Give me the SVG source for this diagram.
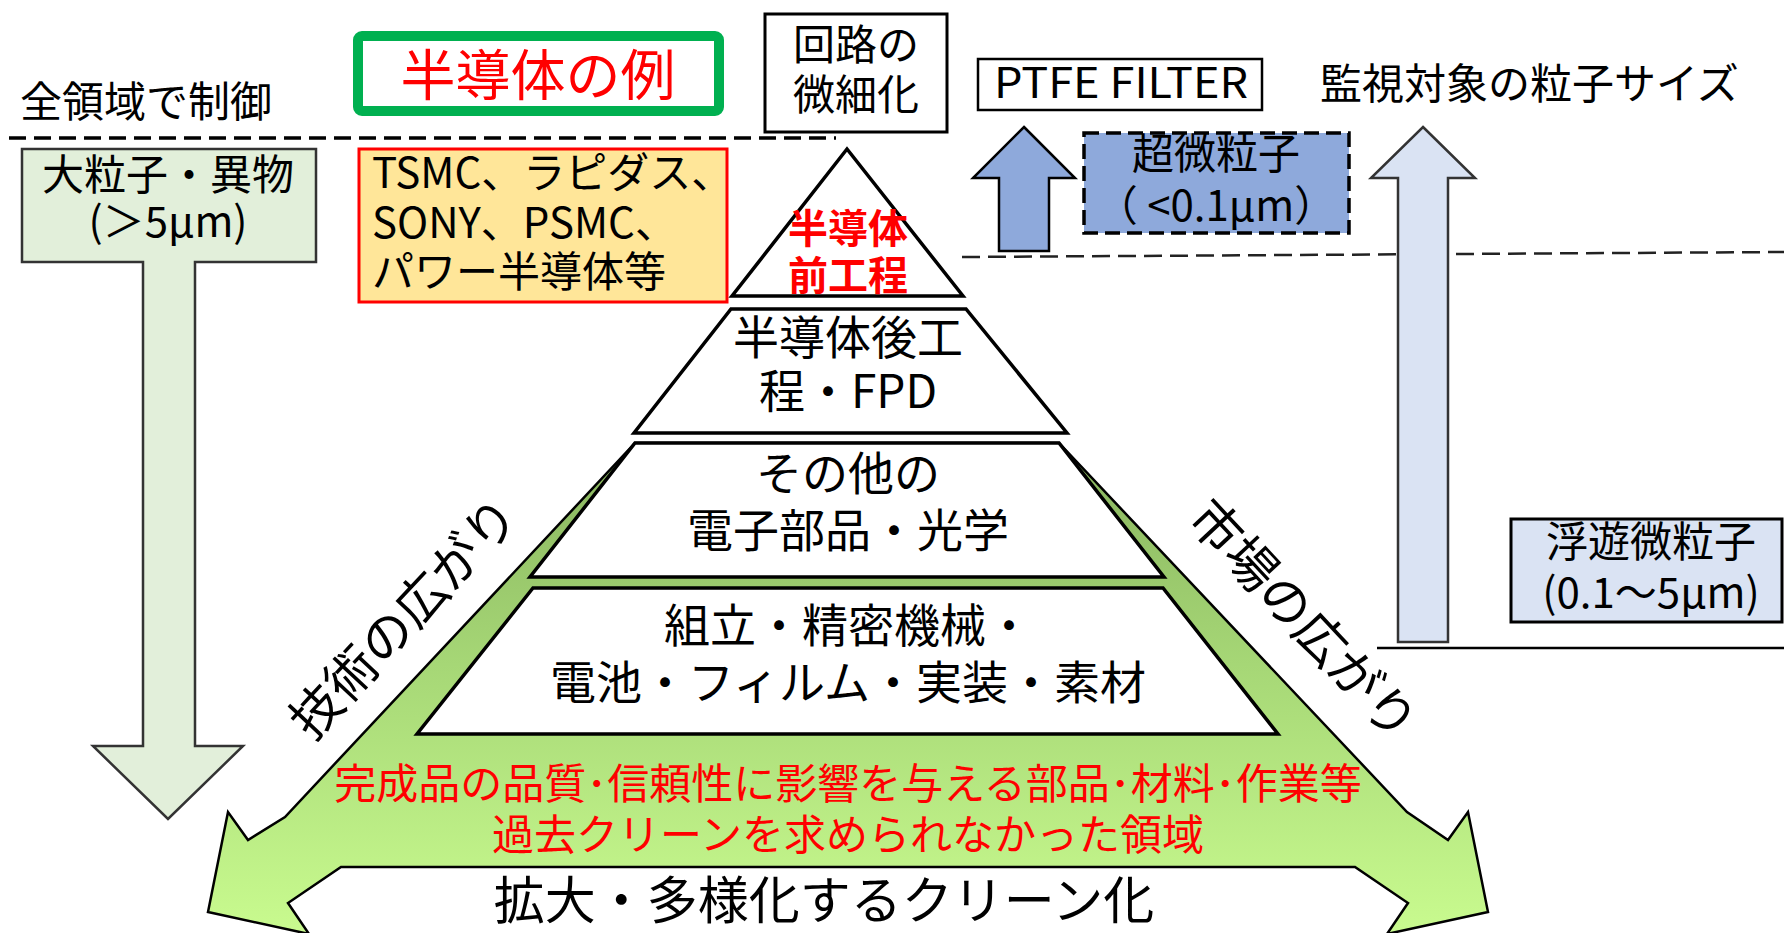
<svg xmlns="http://www.w3.org/2000/svg" width="1784" height="933" viewBox="0 0 1784 933">
<style>
text{font-family:"Noto Sans CJK JP","Noto Sans",sans-serif;fill:#000}
.t42{font-size:42px}
.t46{font-size:46px}
.mid{text-anchor:middle}
.red{fill:#FF0000}
.tier{fill:#FFFFFF;stroke:#000;stroke-width:3.5;stroke-linejoin:miter}
</style>
<defs>
<linearGradient id="gr" gradientUnits="userSpaceOnUse" x1="0" y1="443" x2="0" y2="935">
<stop offset="0" stop-color="#88B35E"/>
<stop offset="0.45" stop-color="#A6D776"/>
<stop offset="1" stop-color="#C9FB8F"/>
</linearGradient>
</defs>
<rect width="1784" height="933" fill="#FFFFFF"/>

<g id="connectors">
<line x1="9" y1="138" x2="836" y2="138" stroke="#000" stroke-width="3.5" stroke-dasharray="17 8"/>
<line x1="962" y1="257" x2="1784" y2="252" stroke="#222" stroke-width="2.5" stroke-dasharray="18 8"/>
<line x1="1377" y1="648" x2="1784" y2="648" stroke="#000" stroke-width="2.5"/>
<path d="M1024,127 L1075,178 H1049 V251 H999 V178 H973 Z" fill="#8EA9DB" stroke="#000" stroke-width="2.5"/>
<path d="M1423,127 L1475,178 H1448 V642 H1398 V178 H1371 Z" fill="#DAE3F3" stroke="#333" stroke-width="2.5"/>
</g>

<g id="spread-arrow">
<path d="M635,443 L1059,443 L1407,812 L1448,840 L1468,812 L1488,912 L1387,934 L1408,903 L1355,867 L341,867 L288,903 L309,934 L208,912 L228,812 L248,840 L285,817 Z" fill="url(#gr)" stroke="#000" stroke-width="2.5" stroke-linejoin="miter"/>
<text class="t42 mid red" x="848" y="799">完成品の品質･信頼性に影響を与える部品･材料･作業等</text>
<text class="t42 mid red" x="848" y="850">過去クリーンを求められなかった領域</text>
<text class="mid" x="824" y="919" font-size="51">拡大・多様化するクリーン化</text>
<text class="mid" font-size="51" transform="translate(404,618) rotate(-47)" y="18">技術の広がり</text>
<text class="mid" font-size="51" transform="translate(1303,620) rotate(47)" y="18">市場の広がり</text>
</g>

<g id="label-all">
<text class="t42" x="20" y="117">全領域で制御</text>
</g>

<g id="large-particle">
<path d="M22,149 H316 V262 H195 V746 H243 L168,819 L93,746 H143 V262 H22 Z" fill="#E2EFDA" stroke="#333" stroke-width="2.5"/>
<text class="t42 mid" x="168" y="190">大粒子・異物</text>
<text class="t42 mid" x="168" y="237">(＞5μm)</text>
</g>

<g id="semi-example">
<rect x="358" y="36" width="361" height="75" rx="4" fill="#FFFFFF" stroke="#00B050" stroke-width="10"/>
<text class="mid red" x="538" y="95" font-size="55">半導体の例</text>
</g>

<g id="companies">
<rect x="359" y="149" width="368" height="153" fill="#FFE699" stroke="#FF0000" stroke-width="3"/>
<text class="t42" x="372" y="188">TSMC、ラピダス、</text>
<text class="t42" x="372" y="238">SONY、PSMC、</text>
<text class="t42" x="372" y="287">パワー半導体等</text>
</g>

<g id="circuit">
<rect x="765" y="14" width="182" height="118" fill="#FFFFFF" stroke="#000" stroke-width="3"/>
<text class="t42 mid" x="856" y="60">回路の</text>
<text class="t42 mid" x="856" y="110">微細化</text>
</g>

<g id="tier1">
<path class="tier" d="M847,149 L963,296 H732 Z"/>
<text class="mid red" x="848" y="243" font-size="40" font-weight="bold">半導体</text>
<text class="mid red" x="848" y="290" font-size="40" font-weight="bold">前工程</text>
</g>

<g id="tier2">
<path class="tier" d="M731,309 H966 L1067,433 H634 Z"/>
<text class="t46 mid" x="848" y="354">半導体後工</text>
<text class="t46 mid" x="848" y="408">程・FPD</text>
</g>

<g id="tier3">
<path class="tier" d="M635,443 H1059 L1164,577 H530 Z"/>
<text class="t46 mid" x="848" y="490">その他の</text>
<text class="t46 mid" x="848" y="547">電子部品・光学</text>
</g>

<g id="tier4">
<path class="tier" d="M533,588 H1163 L1278,734 H417 Z"/>
<text class="t46 mid" x="848" y="642">組立・精密機械・</text>
<text class="t46 mid" x="848" y="699">電池・フィルム・実装・素材</text>
</g>

<g id="ptfe">
<rect x="978" y="59" width="284" height="51" fill="#FFFFFF" stroke="#000" stroke-width="2.5"/>
<text class="t42 mid" x="1121" y="98" textLength="254" lengthAdjust="spacingAndGlyphs">PTFE FILTER</text>
</g>

<g id="monitor-label">
<text class="t42" x="1320" y="99">監視対象の粒子サイズ</text>
</g>

<g id="ultrafine">
<rect x="1084" y="133" width="265" height="100" fill="#8EA9DB" stroke="#000" stroke-width="3.5" stroke-dasharray="15 7"/>
<text class="t42 mid" x="1216" y="169">超微粒子</text>
<text class="t42 mid" x="1216" y="221">（ &lt;0.1μm）</text>
</g>

<g id="airborne">
<rect x="1511" y="519" width="271" height="103" fill="#DAE3F3" stroke="#000" stroke-width="3"/>
<text class="t42 mid" x="1651" y="557">浮遊微粒子</text>
<text class="t42 mid" x="1651" y="608">(0.1～5μm)</text>
</g>
</svg>
